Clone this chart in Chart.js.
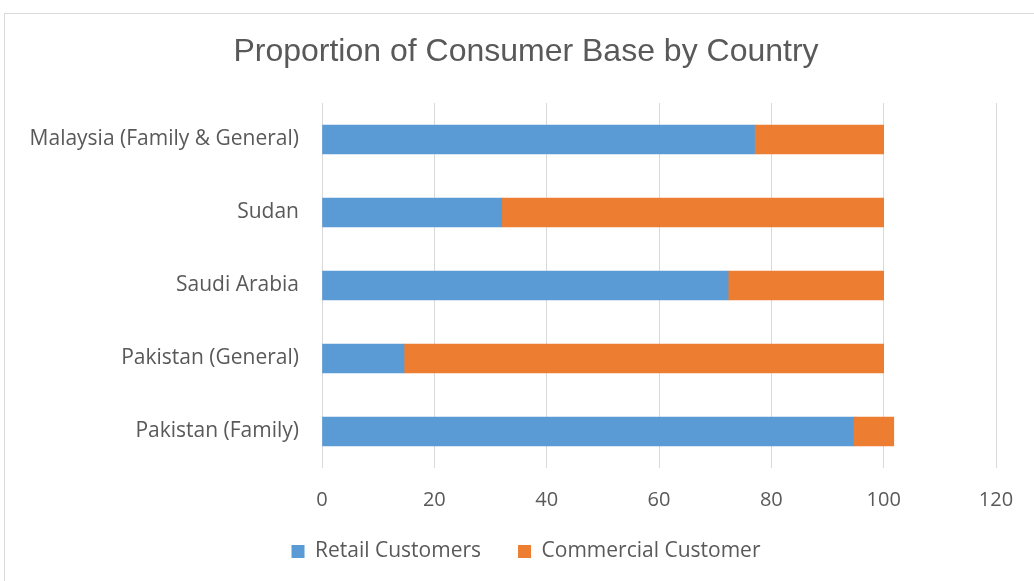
<!DOCTYPE html>
<html>
<head>
<meta charset="utf-8">
<script src="https://cdn.jsdelivr.net/npm/chart.js@4"></script>
<style>
  body { margin: 0; background: #fff; }
  #frame { position: absolute; left: 4px; top: 13px; width: 1040px; height: 580px; border: 1px solid #d9d9d9; }
  #wrap { position: absolute; left: 0; top: 0; width: 1034px; height: 581px; }
</style>
</head>
<body>
<div id="frame"></div>
<div id="wrap"><canvas id="chart1" width="1034" height="581"></canvas></div>
<script>
// categories, top to bottom
const Countries = ['Malaysia (Family & General)', 'Sudan', 'Saudi Arabia', 'Pakistan (General)', 'Pakistan (Family)'];
const Retail = [77, 32, 72.3, 14.6, 94.6];
const Commercial = [23, 68, 27.7, 85.4, 7.2];
const XTicks = [0, 20, 40, 60, 80, 100, 120];

const ColorRetail = '#5B9BD5';
const ColorCommercial = '#ED7D31';
const TextColor = '#595959';
const FontLabel = '"Open Sans", Lato, sans-serif';

// axis labels are clipped to the scale box; widen the clip area
const LabelRoom = {
  id: 'labelRoom',
  afterLayout(chart) {
    chart.scales.y.left = 0;
    chart.scales.x.bottom = chart.height;
  }
};

new Chart('chart1', {
  type: 'bar',
  data: {
    labels: Countries,
    datasets: [
      { label: 'Retail Customers', data: Retail, backgroundColor: ColorRetail, barThickness: 29 },
      { label: 'Commercial Customer', data: Commercial, backgroundColor: ColorCommercial, barThickness: 29 }
    ]
  },
  plugins: [LabelRoom],
  options: {
    indexAxis: 'y',
    responsive: false,
    animation: false,
    layout: { padding: { left: 56, right: 38, top: 0, bottom: 9 } },
    plugins: {
      title: {
        display: true,
        text: 'Proportion of Consumer Base by Country',
        color: TextColor,
        font: { family: '"Liberation Sans", Arial, sans-serif', size: 32, weight: 'normal' },
        padding: { top: 33, bottom: 31.6 }
      },
      legend: {
        position: 'bottom',
        labels: {
          color: TextColor,
          font: { family: FontLabel, size: 21 },
          boxWidth: 13, boxHeight: 13,
          padding: 37
        }
      },
      tooltip: { enabled: false }
    },
    scales: {
      x: {
        stacked: true,
        min: 0, max: 120,
        afterBuildTicks: s => { s.ticks = XTicks.map(v => ({ value: v })); },
        afterFit: s => { s.height = 36; },
        ticks: { color: TextColor, font: { family: FontLabel, size: 20 }, padding: 20 },
        grid: { color: '#d9d9d9', lineWidth: 1, drawTicks: false },
        border: { display: false }
      },
      y: {
        stacked: true,
        afterFit: s => { s.width = 266; },
        ticks: { color: TextColor, font: { family: FontLabel, size: 21 }, padding: 15 },
        grid: { display: false },
        border: { display: false }
      }
    }
  }
});
</script>
</body>
</html>
